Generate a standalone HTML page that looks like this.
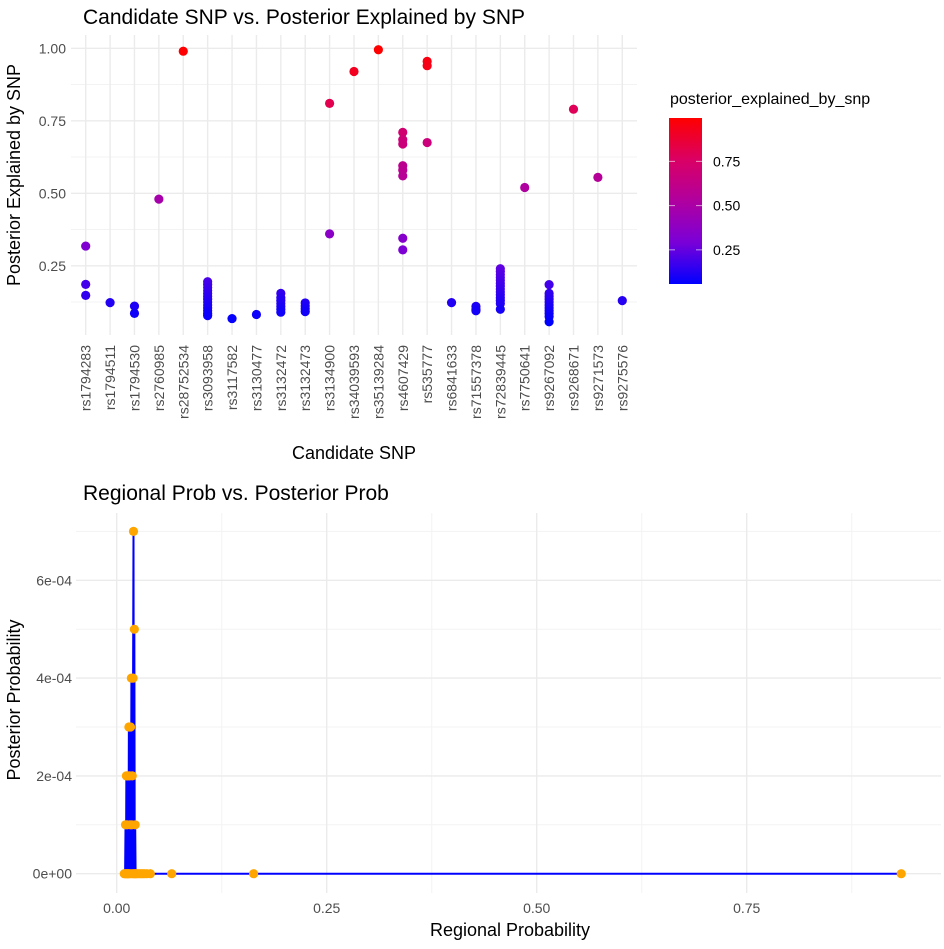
<!DOCTYPE html>
<html><head><meta charset="utf-8"><style>
body{margin:0;background:#fff;}
svg text{font-family:"Liberation Sans",Arial,sans-serif;}
</style></head><body>
<svg id="chart" width="944" height="944" viewBox="0 0 944 944" xmlns="http://www.w3.org/2000/svg">
<defs>
<linearGradient id="cbar" x1="0" y1="1" x2="0" y2="0">
<stop offset="0" stop-color="#0000FF"/><stop offset="0.25" stop-color="#7A00D8"/><stop offset="0.5" stop-color="#B0009F"/><stop offset="0.75" stop-color="#DA0064"/><stop offset="1" stop-color="#FF0000"/>
</linearGradient>
</defs>
<g id="top"></g>
<g id="bot"></g>
</svg>
<script>
const snpCategories = ["rs1794283","rs1794511","rs1794530","rs2760985","rs28752534","rs3093958","rs3117582","rs3130477","rs3132472","rs3132473","rs3134900","rs34039593","rs35139284","rs4607429","rs535777","rs6841633","rs71557378","rs72839445","rs7750641","rs9267092","rs9268671","rs9271573","rs9275576"];
const snpValues = [
 [0.318,0.186,0.148],
 [0.123],
 [0.111,0.086],
 [0.48],
 [0.99],
 [0.195,0.185,0.175,0.165,0.155,0.145,0.135,0.125,0.115,0.105,0.095,0.085,0.078],
 [0.068],
 [0.082],
 [0.155,0.14,0.13,0.12,0.11,0.10,0.09],
 [0.122,0.112,0.102,0.092],
 [0.81,0.36],
 [0.92],
 [0.995],
 [0.71,0.685,0.67,0.595,0.58,0.56,0.345,0.305],
 [0.955,0.94,0.675],
 [0.123],
 [0.11,0.10,0.095],
 [0.24,0.23,0.22,0.21,0.2,0.19,0.18,0.17,0.16,0.15,0.14,0.13,0.12,0.10],
 [0.52],
 [0.185,0.155,0.145,0.135,0.125,0.115,0.105,0.095,0.085,0.075,0.057],
 [0.79],
 [0.555],
 [0.13]
];
const topYTicks = [0.25,0.5,0.75,1.0];
const topYLabels = ["0.25","0.50","0.75","1.00"];
const legendTicks = [0.25,0.5,0.75];
const legendLabels = ["0.25","0.50","0.75"];

const regional = [0.009,0.010,0.0105,0.011,0.0115,0.012,0.0125,0.013,0.0135,0.014,0.0145,0.015,0.0155,0.016,0.0165,0.017,0.0175,0.018,0.0185,0.019,0.0195,0.020,0.0205,0.021,0.0215,0.022,0.0225,0.023,0.025,0.027,0.029,0.031,0.033,0.036,0.040,0.0655,0.163,0.934];
const posterior = [0,0,1e-4,0,2e-4,0,1e-4,0,2e-4,0,3e-4,0,2e-4,1e-4,3e-4,0,4e-4,1e-4,2e-4,0,4e-4,7e-4,0,5e-4,0,1e-4,0,0,0,0,0,0,0,0,0,0,0,0];
const botXTicks = [0,0.25,0.5,0.75];
const botXLabels = ["0.00","0.25","0.50","0.75"];
const botYTicks = [0,2e-4,4e-4,6e-4];
const botYLabels = ["0e+00","2e-04","4e-04","6e-04"];

const NS="http://www.w3.org/2000/svg";
function mk(parent,tag,attrs,text){const e=document.createElementNS(NS,tag);for(const k in attrs)e.setAttribute(k,attrs[k]);if(text!==undefined)e.textContent=text;parent.appendChild(e);return e;}
function lerpHex(a,b,t){const pa=[1,3,5].map(i=>parseInt(a.substr(i,2),16)),pb=[1,3,5].map(i=>parseInt(b.substr(i,2),16));return "rgb("+pa.map((v,i)=>Math.round(v+(pb[i]-v)*t)).join(",")+")";}
const stops=[[0,"#0000FF"],[0.25,"#7A00D8"],[0.5,"#B0009F"],[0.75,"#DA0064"],[1,"#FF0000"]];
const cMin=0.057,cMax=0.995;
function colorOf(v){let t=(v-cMin)/(cMax-cMin);t=Math.max(0,Math.min(1,t));for(let i=0;i<stops.length-1;i++){if(t<=stops[i+1][0]){return lerpHex(stops[i][1],stops[i+1][1],(t-stops[i][0])/(stops[i+1][0]-stops[i][0]));}}return "#FF0000";}

// ---- top chart ----
const T=document.getElementById('top');
const pL=71,pR=637,pT=35,pB=335;
const xCat=i=>85.7+i*24.39;
const yTop=v=>48.3+(1-v)*290;
let t=mk(T,'text',{x:83,y:24,'font-size':21,fill:'#000'},"Candidate SNP vs. Posterior Explained by SNP");

[0.125,0.375,0.625,0.875].forEach(v=>{const l=mk(T,'line',{x1:pL,x2:pR,y1:yTop(v),y2:yTop(v),stroke:'#f3f3f3','stroke-width':1});});
topYTicks.forEach((v,i)=>{const l=mk(T,'line',{x1:pL,x2:pR,y1:yTop(v),y2:yTop(v),stroke:'#ebebeb','stroke-width':1.4});
 const tx=mk(T,'text',{x:66,y:yTop(v)+5,'text-anchor':'end','font-size':14,fill:'#4d4d4d'},topYLabels[i]);});
snpCategories.forEach((c,i)=>{const x=xCat(i);const l=mk(T,'line',{x1:x,x2:x,y1:pT,y2:pB,stroke:'#ebebeb','stroke-width':1.4});
 const tx=mk(T,'text',{x:0,y:0,'text-anchor':'end','font-size':14,fill:'#4d4d4d',transform:`translate(${x+5},345) rotate(-90)`},c);});
snpValues.forEach((arr,i)=>arr.forEach(v=>{const p=mk(T,'circle',{cx:xCat(i),cy:yTop(v),r:4.6,fill:colorOf(v)});}));
t=mk(T,'text',{x:0,y:0,'text-anchor':'middle','font-size':18,fill:'#000',transform:'translate(20,175) rotate(-90)'},"Posterior Explained by SNP");
t=mk(T,'text',{x:354,y:459,'text-anchor':'middle','font-size':18,fill:'#000'},"Candidate SNP");
// legend
const lg=mk(T,'g',{});
t=mk(lg,'text',{x:670,y:104,'font-size':16,fill:'#000'},"posterior_explained_by_snp");
const barT=118,barB=284;const yLeg=v=>barB-(v-cMin)/(cMax-cMin)*(barB-barT);
let r=mk(lg,'rect',{x:669,y:barT,width:33,height:barB-barT,fill:'url(#cbar)'});
legendTicks.forEach((v,i)=>{mk(lg,'line',{x1:669,x2:675,y1:yLeg(v),y2:yLeg(v),stroke:'#fff','stroke-opacity':0.6,'stroke-width':1});mk(lg,'line',{x1:696,x2:702,y1:yLeg(v),y2:yLeg(v),stroke:'#fff','stroke-opacity':0.6,'stroke-width':1});
 const tx=mk(lg,'text',{x:713,y:yLeg(v)+5,'font-size':14,fill:'#000'},legendLabels[i]);});

// ---- bottom chart ----
const B=document.getElementById('bot');
const bL=76,bR=941,bT=513,bB=893;
const xB=v=>116.7+v*840;
const yB=v=>873.7-v/2e-4*97.8;
t=mk(B,'text',{x:83,y:500,'font-size':21,fill:'#000'},"Regional Prob vs. Posterior Prob");
[1e-4,3e-4,5e-4,7e-4].forEach(v=>{const l=mk(B,'line',{x1:bL,x2:bR,y1:yB(v),y2:yB(v),stroke:'#f3f3f3','stroke-width':1});});
[0.125,0.375,0.625,0.875].forEach(v=>{const l=mk(B,'line',{x1:xB(v),x2:xB(v),y1:bT,y2:bB,stroke:'#f3f3f3','stroke-width':1});});
botYTicks.forEach((v,i)=>{const l=mk(B,'line',{x1:bL,x2:bR,y1:yB(v),y2:yB(v),stroke:'#ebebeb','stroke-width':1.4});
 const tx=mk(B,'text',{x:72,y:yB(v)+5,'text-anchor':'end','font-size':14,fill:'#4d4d4d'},botYLabels[i]);});
botXTicks.forEach((v,i)=>{const l=mk(B,'line',{x1:xB(v),x2:xB(v),y1:bT,y2:bB,stroke:'#ebebeb','stroke-width':1.4});
 const tx=mk(B,'text',{x:xB(v),y:913,'text-anchor':'middle','font-size':14,fill:'#4d4d4d'},botXLabels[i]);});
const pts=regional.map((x,i)=>xB(x).toFixed(2)+","+yB(posterior[i]).toFixed(2)).join(" ");
let pl=mk(B,'polyline',{points:pts,fill:'none',stroke:'#0000FF','stroke-width':2,'stroke-linejoin':'round'});
regional.forEach((x,i)=>{const c=mk(B,'circle',{cx:xB(x),cy:yB(posterior[i]),r:4.6,fill:'#FFA500'});});
t=mk(B,'text',{x:0,y:0,'text-anchor':'middle','font-size':18,fill:'#000',transform:'translate(20,700) rotate(-90)'},"Posterior Probability");
t=mk(B,'text',{x:510,y:936,'text-anchor':'middle','font-size':18,fill:'#000'},"Regional Probability");
</script>
</body></html>
